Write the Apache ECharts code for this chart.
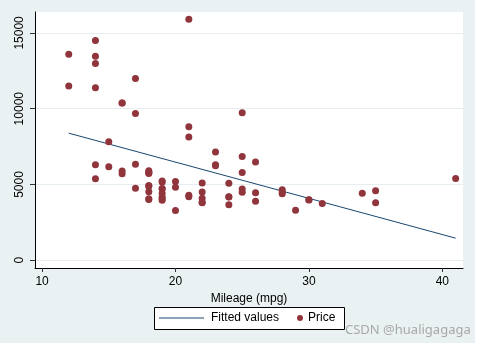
<!DOCTYPE html>
<html>
<head>
<meta charset="utf-8">
<script src="https://cdn.jsdelivr.net/npm/echarts@6/dist/echarts.min.js"></script>
<style>
html,body{margin:0;padding:0;background:#ffffff;}
#chart{width:477px;height:347px;}
</style>
</head>
<body>
<div id="chart"></div>
<script>
// Stata auto data: mileage (mpg) and price
var mpg = [22,17,22,20,15,18,26,20,16,19,14,14,21,29,16,22,22,24,19,30,18,16,17,28,21,12,12,14,22,14,15,18,14,20,21,19,19,18,19,24,16,28,34,25,26,18,18,18,19,19,19,24,17,23,25,23,35,24,21,21,25,28,30,14,26,35,18,31,18,23,41,25,25,17];
var price = [4099,4749,3799,4816,7827,5788,4453,5189,10372,4082,11385,14500,15906,3299,5705,4504,5104,3667,3955,3984,4010,5886,6342,4389,4187,11497,13594,13466,3829,5379,6165,4516,6303,3291,8814,5172,4733,4890,4181,4195,10371,4647,4425,4482,6486,4060,5798,4934,5222,4723,4424,4172,9690,6295,9735,6229,4589,5079,8129,4296,5799,4499,3995,12990,3895,3798,5899,3748,5719,7140,5397,4697,6850,11995];
var fitMpg = [12, 41];
var fitPrice = [8386, 1458];
var xTicks = [10, 20, 30, 40];
var yTicks = [0, 5000, 10000, 15000];
var seriesNames = ['Fitted values', 'Price'];
var xTitle = 'Mileage (mpg)';
var watermark = 'CSDN @hualigagaga';

var scatterData = mpg.map(function(m, i){ return [m, price[i]]; });
var fitData = fitMpg.map(function(m, i){ return [m, fitPrice[i]]; });

var FONT = 'Liberation Sans';
var chart = echarts.init(document.getElementById('chart'), null, {renderer:'canvas'});
chart.setOption({
  backgroundColor: '#ffffff',
  animation: false,
  graphic: [
    {type:'rect', z:-10, silent:true, shape:{x:0,y:0,width:475,height:343}, style:{fill:'#eaf1f3'}},
    {type:'rect', z:1, silent:true, shape:{x:154.5,y:307.5,width:190,height:22}, style:{fill:'#ffffff', stroke:'#000000', lineWidth:1}},
    {type:'text', z:20, silent:true, left:345, top:324, style:{text:watermark, fill:'#a8a8a8', font:'13px "Noto Sans", sans-serif'}}
  ],
  grid: {left:35, right:14, top:12, bottom:79, show:true, backgroundColor:'#ffffff', borderWidth:0},
  legend: [
    {data:[{name:seriesNames[0], icon:'rect', itemStyle:{color:'#1a476f'}}], left:159, top:312, itemWidth:45, itemHeight:1, padding:0, selectedMode:false,
     textStyle:{fontFamily:FONT, fontSize:12, color:'#000', padding:[0,0,0,2]}},
    {data:[seriesNames[1]], left:297, top:312, itemWidth:6, itemHeight:6, padding:0, selectedMode:false, itemGap:5,
     icon:'circle', textStyle:{fontFamily:FONT, fontSize:12, color:'#000'}}
  ],
  xAxis: {
    type:'value', min:9.47, max:41.55,
    name: xTitle, nameLocation:'middle', nameGap:22,
    nameTextStyle:{fontFamily:FONT, fontSize:12, color:'#000'},
    axisLine:{show:true, onZero:false, lineStyle:{color:'#000', width:1}},
    axisTick:{show:true, length:4, customValues:xTicks, lineStyle:{color:'#333'}},
    axisLabel:{customValues:xTicks, margin:8, fontFamily:FONT, fontSize:12, color:'#000'},
    splitLine:{show:false}
  },
  yAxis: {
    type:'value', min:-510, max:16380,
    axisLine:{show:true, onZero:false, lineStyle:{color:'#000', width:1}},
    axisTick:{show:true, length:5, customValues:yTicks, lineStyle:{color:'#333'}},
    axisLabel:{customValues:yTicks, rotate:90, margin:9, fontFamily:FONT, fontSize:12, color:'#000',
      formatter:function(v){ return String(v); }},
    splitLine:{show:true, lineStyle:{color:'#e6eef1', width:1}}
  },
  series: [
    {name:seriesNames[0], type:'line', data:fitData, showSymbol:false, symbol:'none',
     lineStyle:{color:'#1a476f', width:1}, itemStyle:{color:'#1a476f'}, z:2},
    {name:seriesNames[1], type:'scatter', data:scatterData, symbol:'circle', symbolSize:7,
     itemStyle:{color:'#90353b', opacity:1}, z:3}
  ]
});
</script>
</body>
</html>
